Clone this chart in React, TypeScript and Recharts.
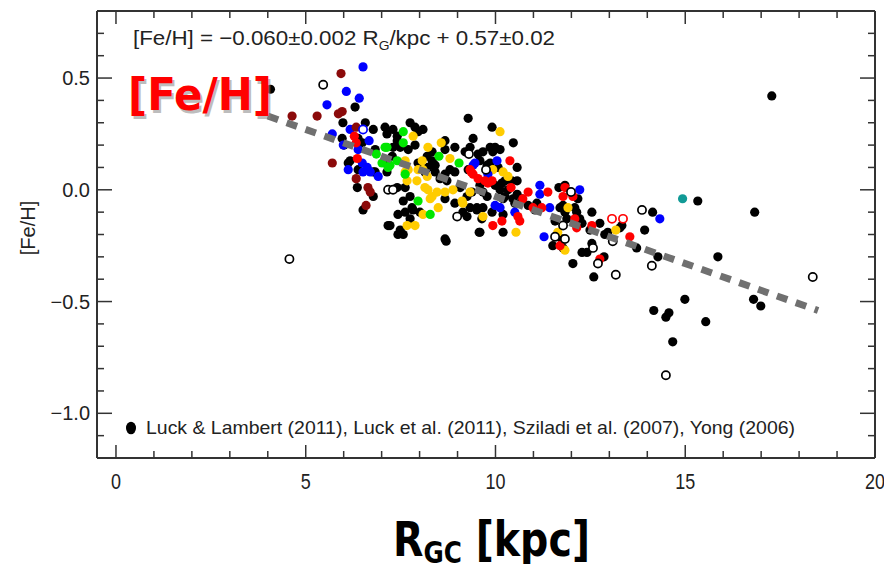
import React from "react";
import { ScatterChart, Scatter, XAxis, YAxis } from "recharts";

type Pt = [number, number];

// axis ticks (IDL style: minor every 1 kpc / 0.1 dex, labels on majors)
const xTicks = [0, 1, 2, 3, 4, 5, 6, 7, 8, 9, 10, 11, 12, 13, 14, 15, 16, 17, 18, 19, 20];
const yTicks = [-1.1, -1.0, -0.9, -0.8, -0.7, -0.6, -0.5, -0.4, -0.3, -0.2, -0.1, 0, 0.1, 0.2, 0.3, 0.4, 0.5, 0.6, 0.7];

// [R_GC, [Fe/H]]
const blackFilled: Pt[] = [
  [4.07, 0.45], [17.28, 0.42], [6.3, 0.37], [5.98, 0.3], [6.57, 0.3], [6.78, 0.27], [7.09, 0.28], [7.14, 0.25],
  [7.3, 0.27], [7.41, 0.24], [7.75, 0.3], [7.88, 0.28], [7.96, 0.26], [8.09, 0.27], [6.01, 0.2], [5.96, 0.23],
  [6.38, 0.23], [6.49, 0.21], [6.83, 0.18], [6.17, 0.13], [6.12, 0.12], [6.38, 0.09], [6.78, 0.08], [6.83, 0.08],
  [7.14, 0.08], [6.36, 0.01], [6.78, -0.03], [6.51, -0.09], [7.17, -0.16], [7.49, -0.18], [7.43, -0.2], [7.22, -0.16],
  [7.57, -0.2], [8.7, -0.23], [9.57, -0.19], [9.51, -0.09], [9.64, -0.13], [9.28, 0.32], [9.41, 0.23], [8.67, 0.22],
  [8.93, 0.19], [7.41, 0.22], [7.3, 0.19], [7.49, 0.19], [7.7, 0.18], [7.88, 0.2], [8.67, 0.18], [8.2, 0.15],
  [8.33, 0.17], [7.28, 0.15], [7.09, 0.13], [8.33, 0.13], [8.41, 0.11], [8.22, 0.1], [7.96, 0.12], [8.14, 0.08],
  [8.41, 0.08], [9.2, 0.17], [9.33, 0.19], [8.8, 0.09], [8.93, 0.08], [9.28, 0.09], [8.67, 0.07], [8.54, 0.05],
  [8.72, 0.04], [9.07, 0.01], [9.38, -0.01], [9.25, -0.03], [7.41, 0.01], [7.62, 0.01], [7.75, -0.03], [7.57, -0.05],
  [7.8, -0.08], [7.62, -0.1], [7.43, -0.11], [7.75, -0.13], [7.83, -0.09], [8.01, -0.1], [8.67, -0.04], [8.93, -0.06],
  [9.33, -0.08], [9.14, -0.1], [9.25, -0.12], [8.67, -0.22], [9.91, 0.28], [10.47, 0.21], [9.86, 0.19], [9.93, 0.17],
  [9.67, 0.17], [9.54, 0.16], [9.59, 0.13], [9.86, 0.12], [9.99, 0.19], [10.12, 0.18], [9.78, 0.11], [10.07, 0.1],
  [10.57, 0.1], [10.57, 0.04], [10.25, 0.04], [10.17, 0.03], [9.59, 0.02], [9.67, -0.01], [9.78, -0.03], [9.99, 0.02],
  [10.12, 0.0], [10.57, -0.02], [10.33, 0.0], [10.46, -0.04], [10.25, -0.03], [11.09, -0.06], [11.04, -0.09], [10.51, -0.06],
  [10.7, -0.04], [10.86, -0.07], [10.2, -0.04], [9.51, -0.08], [9.67, -0.08], [9.91, -0.1], [10.2, -0.11], [9.59, -0.19],
  [10.2, -0.19], [10.43, 0.04], [11.67, 0.01], [11.83, 0.02], [11.7, -0.08], [11.78, -0.07], [11.83, -0.1], [11.88, -0.13],
  [12.14, -0.1], [12.22, -0.13], [12.28, -0.15], [12.17, -0.04], [12.09, -0.08], [12.54, -0.1], [11.57, -0.14], [12.49, -0.18],
  [12.75, -0.15], [12.88, -0.2], [12.96, -0.19], [13.28, -0.17], [13.33, -0.16], [11.51, -0.25], [11.62, -0.21], [11.75, -0.22],
  [11.78, -0.26], [12.28, -0.28], [12.41, -0.28], [12.54, -0.24], [12.04, -0.33], [12.86, -0.3], [12.59, -0.39], [13.72, -0.26],
  [13.93, -0.18], [14.14, -0.1], [14.28, -0.3], [15.33, -0.05], [16.83, -0.1], [15.86, -0.3], [14.17, -0.54], [14.49, -0.57],
  [14.57, -0.55], [14.99, -0.49], [15.54, -0.59], [14.67, -0.68], [16.8, -0.49], [16.99, -0.52],
];

const blackOpen: Pt[] = [
  [5.46, 0.47], [4.57, -0.31], [7.17, 0.0], [7.3, 0.0], [9.3, 0.16], [8.99, -0.12], [9.75, 0.09], [11.99, -0.01],
  [11.78, -0.16], [11.57, -0.21], [11.83, -0.22], [12.57, -0.26], [12.7, -0.33], [13.09, -0.23], [13.17, -0.38],
  [13.86, -0.09], [14.12, -0.34], [14.49, -0.83], [18.36, -0.39],
];

const maroon: Pt[] = [
  [5.93, 0.52], [4.64, 0.33], [5.3, 0.33], [5.86, 0.34], [5.96, 0.35], [6.33, 0.28], [5.7, 0.12], [6.33, 0.05],
  [6.64, 0.01], [6.7, -0.01], [6.59, -0.07],
];

const blue: Pt[] = [
  [6.51, 0.55], [6.07, 0.44], [6.41, 0.41], [5.56, 0.38], [6.17, 0.27], [5.7, 0.25], [6.67, 0.22], [5.99, 0.2],
  [6.38, 0.18], [6.49, 0.12], [6.62, 0.1], [6.7, 0.08], [6.51, 0.08], [6.12, 0.09], [6.91, 0.06], [9.41, 0.11],
  [9.46, 0.12], [10.04, 0.13], [9.8, 0.07], [11.17, 0.02], [11.17, -0.02], [9.99, -0.07], [10.12, -0.08], [10.51, -0.1],
  [11.43, -0.08], [12.22, 0.0], [11.28, -0.21], [14.33, -0.13],
];

const blueOpen: Pt[] = [[6.51, 0.27]];

const red: Pt[] = [
  [6.28, 0.24], [6.33, 0.21], [6.36, 0.14], [10.38, 0.13], [9.33, 0.09], [9.41, 0.07], [9.54, 0.05], [9.72, 0.04],
  [9.8, 0.03], [9.91, 0.04], [9.36, 0.08], [10.41, 0.01], [10.86, -0.01], [10.72, -0.04], [11.38, -0.01], [11.83, 0.01],
  [11.78, -0.03], [10.99, -0.08], [11.22, -0.08], [10.59, -0.12], [10.64, -0.14], [9.93, -0.16], [10.17, -0.14], [12.09, -0.13],
  [12.14, -0.17], [12.54, -0.16], [11.7, -0.25], [12.75, -0.31], [13.54, -0.21], [12.04, -0.03],
];

const redOpen: Pt[] = [[13.07, -0.13], [13.36, -0.13]];

const yellow: Pt[] = [
  [7.83, 0.24], [8.22, 0.19], [8.57, 0.21], [8.8, 0.14], [8.07, 0.13], [7.62, 0.13], [8.09, 0.09], [7.7, 0.09],
  [7.96, 0.09], [7.62, 0.08], [7.93, 0.04], [8.2, 0.06], [7.67, 0.04], [8.14, 0.01], [8.28, -0.04], [8.88, 0.0],
  [8.67, -0.01], [8.46, -0.01], [8.22, 0.0], [8.33, -0.03], [9.14, -0.06], [9.33, -0.01], [8.49, -0.08], [8.09, -0.11],
  [7.67, -0.16], [7.88, -0.16], [10.12, 0.26], [9.93, 0.09], [10.2, 0.08], [10.33, 0.06], [9.67, -0.12], [10.54, -0.19],
  [11.91, -0.08], [11.64, -0.19], [11.83, -0.27], [13.17, -0.18], [9.12, -0.05],
];

const green: Pt[] = [
  [7.09, 0.19], [6.86, 0.16], [7.01, 0.12], [7.22, 0.11], [7.57, 0.26], [7.57, 0.21], [8.51, 0.15], [9.04, 0.12],
  [7.41, 0.13], [7.14, 0.19], [7.96, -0.05], [8.28, -0.11], [7.62, 0.07], [7.17, 0.1],
];

const teal: Pt[] = [[14.93, -0.04]];

// [Fe/H] = -0.060 R_G + 0.57
const fitLine: Pt[] = [[4, 0.33], [18.5, -0.54]];

const rows = (pts: Pt[]) => pts.map(([x, y]) => ({ x, y }));

const AXIS = "#333";
const LABEL_FONT = "'Liberation Sans', Arial, sans-serif";

const dot = (fill: string) => (p: any) => <circle cx={p.cx} cy={p.cy} r={4.6} fill={fill} />;
const ring = (stroke: string) => (p: any) => (
  <circle cx={p.cx} cy={p.cy} r={4.1} fill="#fff" stroke={stroke} strokeWidth={1.7} />
);
const noShape = () => <g />;

const isMajorY = (v: number) => Math.round(v * 10) % 5 === 0;
const fmtY = (v: number) => v.toFixed(1).replace("-", "\u2212");

function BottomTick(props: any) {
  const { x, y, payload } = props;
  const v = payload.value as number;
  const major = v % 5 === 0;
  return (
    <g>
      <line x1={x} y1={y} x2={x} y2={y - (major ? 13 : 7)} stroke={AXIS} strokeWidth={1.5} />
      {major && (
        <text x={x} y={y + 31} textAnchor="middle" fontFamily={LABEL_FONT} fontSize={22} fill="#222"
          textLength={String(v).length * 10} lengthAdjust="spacingAndGlyphs">
          {v}
        </text>
      )}
    </g>
  );
}

function TopTick(props: any) {
  const { x, y, payload } = props;
  const major = (payload.value as number) % 5 === 0;
  return <line x1={x} y1={y} x2={x} y2={y + (major ? 13 : 7)} stroke={AXIS} strokeWidth={1.5} />;
}

function LeftTick(props: any) {
  const { x, y, payload } = props;
  const v = payload.value as number;
  const major = isMajorY(v);
  return (
    <g>
      <line x1={x} y1={y} x2={x + (major ? 15 : 7)} y2={y} stroke={AXIS} strokeWidth={1.5} />
      {major && (
        <text x={x - 7} y={y + 7} textAnchor="end" fontFamily={LABEL_FONT} fontSize={20} fill="#222">
          {fmtY(v)}
        </text>
      )}
    </g>
  );
}

function RightTick(props: any) {
  const { x, y, payload } = props;
  const major = isMajorY(payload.value as number);
  return <line x1={x} y1={y} x2={x - (major ? 15 : 7)} y2={y} stroke={AXIS} strokeWidth={1.5} />;
}

export default function App() {
  return (
    <div style={{ position: "absolute", left: 0, top: 0, width: 884, height: 564, background: "#fff" }}>
      <ScatterChart width={884} height={564} margin={{ top: 10, right: 8, bottom: 105, left: 96 }}>
        <XAxis xAxisId="b" type="number" dataKey="x" domain={[-0.5, 20]} ticks={xTicks} interval={0}
          height={1} tickSize={0} tickMargin={0} tickLine={false} allowDataOverflow
          axisLine={{ stroke: AXIS, strokeWidth: 2 }} tick={<BottomTick />} />
        <XAxis xAxisId="t" orientation="top" type="number" dataKey="x" domain={[-0.5, 20]} ticks={xTicks}
          interval={0} height={1} tickSize={0} tickMargin={0} tickLine={false} allowDataOverflow
          axisLine={{ stroke: AXIS, strokeWidth: 2 }} tick={<TopTick />} />
        <YAxis yAxisId="l" type="number" dataKey="y" domain={[-1.2, 0.8]} ticks={yTicks} interval={0}
          width={1} tickSize={0} tickMargin={0} tickLine={false} allowDataOverflow
          axisLine={{ stroke: AXIS, strokeWidth: 2 }} tick={<LeftTick />} />
        <YAxis yAxisId="r" orientation="right" type="number" dataKey="y" domain={[-1.2, 0.8]} ticks={yTicks}
          interval={0} width={1} tickSize={0} tickMargin={0} tickLine={false} allowDataOverflow
          axisLine={{ stroke: AXIS, strokeWidth: 2 }} tick={<RightTick />} />

        <Scatter xAxisId="b" yAxisId="l" data={rows(blackFilled)} shape={dot("#000")} isAnimationActive={false} />
        <Scatter xAxisId="b" yAxisId="l" data={rows(yellow)} shape={dot("#FFCC00")} isAnimationActive={false} />
        <Scatter xAxisId="b" yAxisId="l" data={rows(green)} shape={dot("#00E600")} isAnimationActive={false} />
        <Scatter xAxisId="b" yAxisId="l" data={rows(blue)} shape={dot("#0000FF")} isAnimationActive={false} />
        <Scatter xAxisId="b" yAxisId="l" data={rows(red)} shape={dot("#FF0000")} isAnimationActive={false} />
        <Scatter xAxisId="b" yAxisId="l" data={rows(maroon)} shape={dot("#8B0A0A")} isAnimationActive={false} />
        <Scatter xAxisId="b" yAxisId="l" data={rows(teal)} shape={dot("#119A96")} isAnimationActive={false} />
        <Scatter xAxisId="b" yAxisId="l" data={rows(blackOpen)} shape={ring("#000")} isAnimationActive={false} />
        <Scatter xAxisId="b" yAxisId="l" data={rows(blueOpen)} shape={ring("#0000FF")} isAnimationActive={false} />
        <Scatter xAxisId="b" yAxisId="l" data={rows(redOpen)} shape={ring("#FF0000")} isAnimationActive={false} />
        <Scatter xAxisId="b" yAxisId="l" data={rows(fitLine)} shape={noShape} isAnimationActive={false}
          line={{ stroke: "#707070", strokeWidth: 7, strokeDasharray: "11 9" }} />
      </ScatterChart>

      <svg width={884} height={564} style={{ position: "absolute", left: 0, top: 0, pointerEvents: "none" }}>
        <text x={133} y={45} fontFamily={LABEL_FONT} fontSize={21} fill="#222" textLength={422}
          lengthAdjust="spacingAndGlyphs">
          [Fe/H] = {"\u2212"}0.060{"\u00b1"}0.002 R
          <tspan fontSize={13} dy={5}>G</tspan>
          <tspan dy={-5}>/kpc + 0.57{"\u00b1"}0.02</tspan>
        </text>

        <ellipse cx={131} cy={428} rx={5} ry={6.3} fill="#000" />
        <text x={146} y={434} fontFamily={LABEL_FONT} fontSize={19} fill="#222" textLength={649}
          lengthAdjust="spacingAndGlyphs">
          Luck &amp; Lambert (2011), Luck et al. (2011), Sziladi et al. (2007), Yong (2006)
        </text>

        <text x={35} y={228} transform="rotate(-90 35 228)" textAnchor="middle" fontFamily={LABEL_FONT}
          fontSize={20} fill="#222">
          [Fe/H]
        </text>

        <text x={130} y={113} fontFamily="'DejaVu Sans', sans-serif" fontWeight="bold" fontSize={44}
          fill="#888" opacity={0.55} textLength={144} lengthAdjust="spacingAndGlyphs">
          [Fe/H]
        </text>
        <text x={128} y={110} fontFamily="'DejaVu Sans', sans-serif" fontWeight="bold" fontSize={44}
          fill="#FF0000" textLength={144} lengthAdjust="spacingAndGlyphs">
          [Fe/H]
        </text>

        <text x={393} y={556} fontFamily="'DejaVu Sans', sans-serif" fontWeight="bold" fontSize={48}
          fill="#000" textLength={197} lengthAdjust="spacingAndGlyphs">
          R<tspan fontSize={30} dy={7}>GC</tspan>
          <tspan dy={-7}> [kpc]</tspan>
        </text>
      </svg>
    </div>
  );
}
